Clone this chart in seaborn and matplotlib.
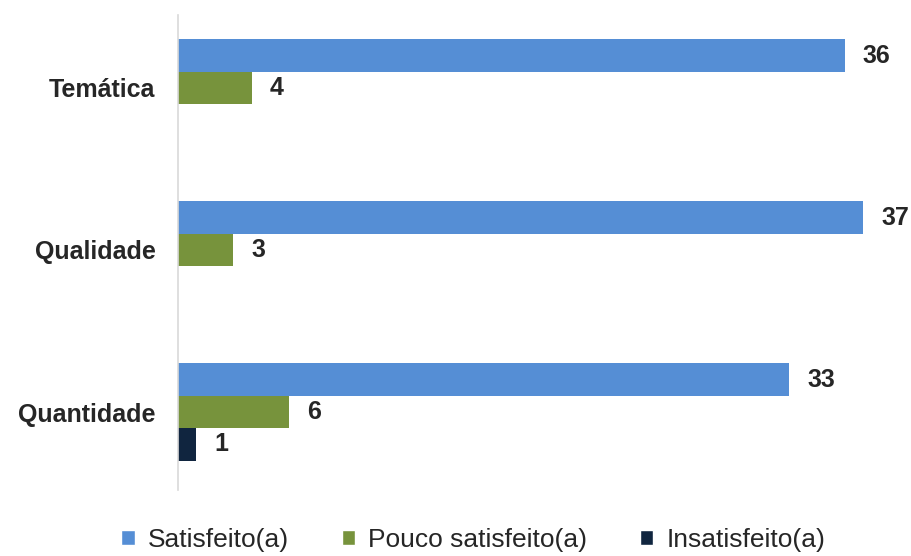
import matplotlib
matplotlib.use("Agg")
import matplotlib.pyplot as plt
import seaborn as sns
import pandas as pd
from matplotlib.patches import Patch

sns.set_theme(style="white")
plt.rcParams['font.family'] = ['Liberation Sans', 'DejaVu Sans']

categorias = ["Temática", "Qualidade", "Quantidade"]
series = ["Satisfeito(a)", "Pouco satisfeito(a)", "Insatisfeito(a)"]
satisfeito = [36, 37, 33]
pouco = [4, 3, 6]
insatisfeito = [0, 0, 1]
cores = ["#558ED5", "#77933C", "#10253F"]

linhas = []
for s, vals in zip(series, [satisfeito, pouco, insatisfeito]):
    for c, v in zip(categorias, vals):
        linhas.append({"cat": c, "serie": s, "val": v})
df = pd.DataFrame(linhas)

fig = plt.figure(figsize=(9.12, 5.56), dpi=100)
ax = fig.add_axes([0.195, 0.119, 0.772, 0.854])

sns.barplot(data=df, y="cat", x="val", hue="serie", order=categorias,
            hue_order=series, palette=cores, orient="h", width=0.6,
            saturation=1, linewidth=0, ax=ax, legend=False)

for cont in ax.containers:
    labs = [f"{int(b.get_width())}" if b.get_width() > 0 else "" for b in cont]
    ax.bar_label(cont, labels=labs, padding=13, fontsize=18, fontweight="bold",
                 color="#262626")

ax.set_xlim(0, 38)
ax.set_ylim(2.48, -0.45)
ax.set_xlabel("")
ax.set_ylabel("")
ax.set_xticks([])
ax.tick_params(axis="y", length=0, pad=16, labelsize=18, labelcolor="#262626")
for t in ax.get_yticklabels():
    t.set_fontweight("bold")
for side in ["top", "right", "bottom"]:
    ax.spines[side].set_visible(False)
ax.spines["left"].set_color("#D9D9D9")
ax.spines["left"].set_linewidth(1.2)

handles = [Patch(facecolor=c, label=s) for c, s in zip(cores, series)]
fig.legend(handles=handles, loc="lower center", ncol=3, frameon=False,
           bbox_to_anchor=(0.519, -0.035), fontsize=19, handlelength=0.5,
           handleheight=0.5, handletextpad=0.5, columnspacing=2.0,
           labelcolor="#262626")

fig.savefig("out.png", dpi=100)
